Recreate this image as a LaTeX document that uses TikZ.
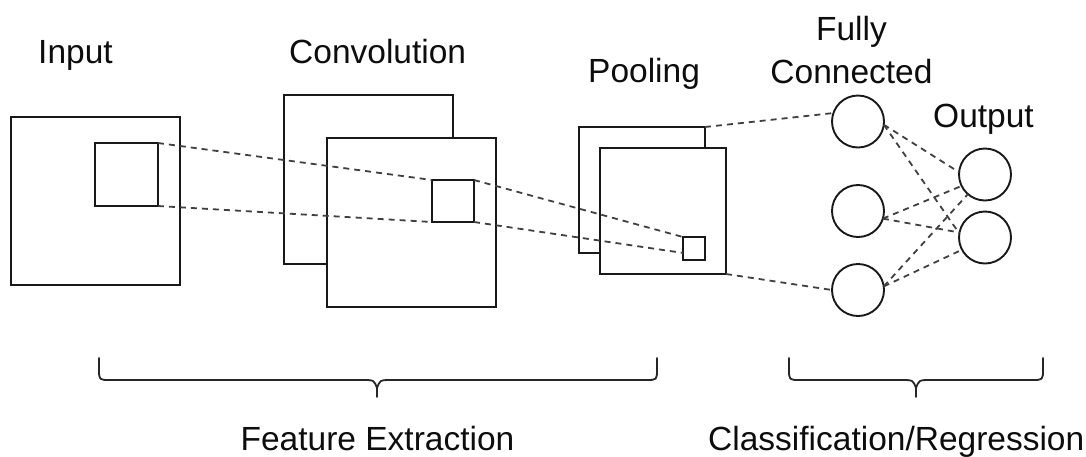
\documentclass[tikz,border=0pt]{standalone}
\usepackage{fontspec}
\setmainfont{Liberation Sans}
\begin{document}
\begin{tikzpicture}[x=1pt,y=-1pt,
  layer/.style={draw=black!90, line width=2pt, fill=white, rectangle,
    inner sep=0pt, outer sep=0pt, anchor=north west},
  neuron/.style={draw=black!90, line width=1.9pt, circle, minimum size=52pt,
    inner sep=0pt, outer sep=0pt},
  link/.style={draw=black!75, line width=1.8pt, dash pattern=on 6pt off 5pt},
  brace/.style={draw=black!85, line width=1.8pt, line cap=round, line join=round},
  label/.style={font=\fontsize{33.5}{40}\selectfont, text=black!95, inner sep=0pt}]
\useasboundingbox (0,0) rectangle (1086,456);

% input image and its receptive field
\node[layer, minimum width=169pt, minimum height=168pt] (in) at (11,117) {};
\node[layer, minimum width=63pt, minimum height=63pt] (inwin) at (95,143) {};

% convolution feature maps
\node[layer, minimum width=169pt, minimum height=169pt] (convB) at (284,95) {};
\node[layer, minimum width=169pt, minimum height=169pt] (convF) at (327,138) {};
\node[layer, minimum width=42pt, minimum height=42pt] (convwin) at (432,180) {};

% pooled feature maps
\node[layer, minimum width=126pt, minimum height=126pt] (poolB) at (579,127) {};
\node[layer, minimum width=126pt, minimum height=126pt] (poolF) at (600,148) {};
\node[layer, minimum width=22pt, minimum height=23pt] (poolwin) at (683,237) {};

% fully connected and output neurons
\node[neuron] (fc1) at (858,121.5) {};
\node[neuron] (fc2) at (858,211) {};
\node[neuron] (fc3) at (858,290) {};
\node[neuron] (out1) at (985,174.5) {};
\node[neuron] (out2) at (985,237.5) {};

% dashed projections between stages
\draw[link] (inwin.north east) -- (convwin.north west);
\draw[link] (inwin.south east) -- (convwin.south west);
\draw[link] (convwin.north east) -- (poolwin.north west);
\draw[link] (convwin.south east) -- (poolwin.202);
\draw[link] (poolB.north east) -- (fc1.161);
\draw[link] (poolF.south east) -- (fc3.west);

\draw[link] (fc1.-7) -- (out1.175);
\draw[link] (fc1.-7) -- (out2.171);
\draw[link] (fc2.-17) -- (out1.206);
\draw[link] (fc2.-17) -- (out2.169);
\draw[link] (fc3.8) -- (out1.229);
\draw[link] (fc3.8) -- (out2.208);

% stage titles
\node[label, anchor=base west] (tin) at (38,63) {Input};
\node[label, anchor=base west] (tconv) at (289,63) {Convolution};
\node[label, anchor=base west] (tpool) at (588,82) {Pooling};
\node[label, anchor=base] (tfc1) at (851.5,40) {Fully};
\node[label, anchor=base] (tfc2) at (851.5,83) {Connected};
\node[label, anchor=base west] (tout) at (933,127) {Output};

% grouping braces
\draw[brace] (99,358) -- (99,369) .. controls (99,380) .. (110,380)
  -- (362,380) .. controls (374,380) .. (377,388) -- (377,397);
\draw[brace] (377,388) .. controls (380,380) .. (392,380)
  -- (646,380) .. controls (657,380) .. (657,369) -- (657,358);
\draw[brace] (789,358) -- (789,369) .. controls (789,380) .. (800,380)
  -- (901,380) .. controls (913,380) .. (916,388) -- (916,397);
\draw[brace] (916,388) .. controls (919,380) .. (931,380)
  -- (1032,380) .. controls (1043,380) .. (1043,369) -- (1043,358);

\node[label, anchor=base] (tfeat) at (377.5,450) {Feature Extraction};
\node[label, anchor=base west] (tcls) at (708,450) {Classification/Regression};
\end{tikzpicture}
\end{document}
